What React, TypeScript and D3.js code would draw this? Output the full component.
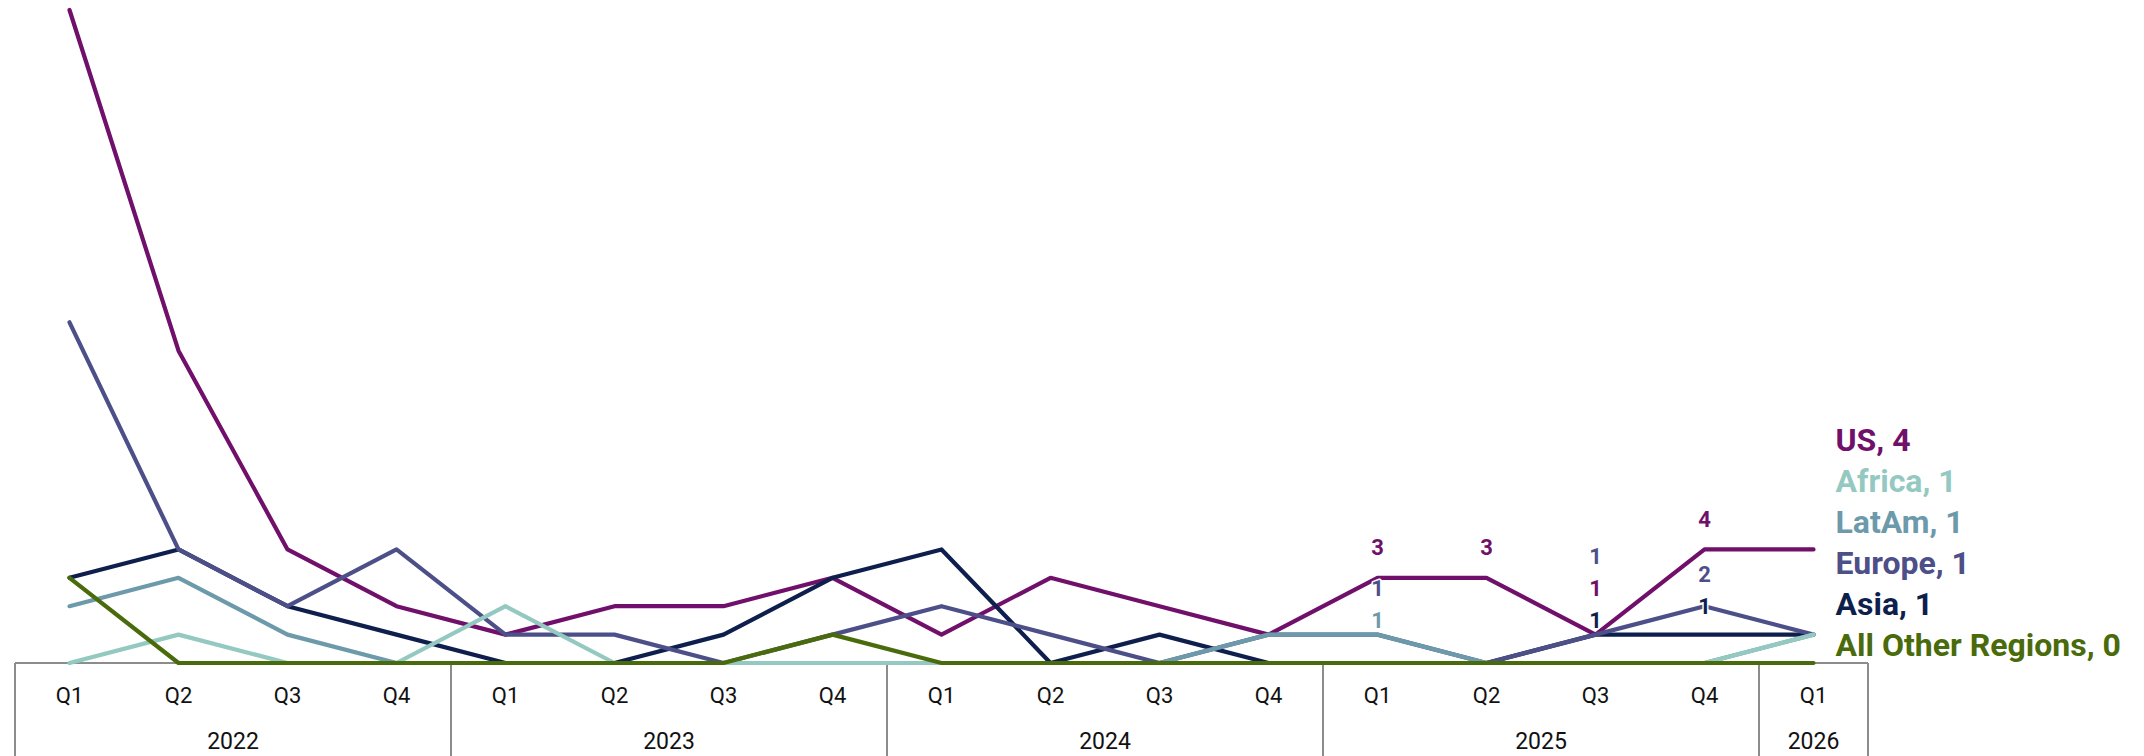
import React from "react";
import * as d3 from "d3";

const quarters = ["Q1","Q2","Q3","Q4","Q1","Q2","Q3","Q4","Q1","Q2","Q3","Q4","Q1","Q2","Q3","Q4","Q1"];
const years = ["2022","2022","2022","2022","2023","2023","2023","2023","2024","2024","2024","2024","2025","2025","2025","2025","2026"];

const usValues =     [23,11,4,2,1,2,2,3,1,3,2,1,3,3,1,4,4];
const asiaValues =   [3,4,2,1,0,0,1,3,4,0,1,0,0,0,1,1,1];
const europeValues = [12,4,2,4,1,1,0,1,2,1,0,1,1,0,1,2,1];
const latamValues =  [2,3,1,0,0,0,0,0,0,0,0,1,1,0,0,0,1];
const africaValues = [0,1,0,0,2,0,0,0,0,0,0,0,0,0,0,0,1];
const otherValues =  [3,0,0,0,0,0,0,1,0,0,0,0,0,0,0,0,0];

// draw order (bottom -> top)
const seriesNames = ["US","Asia","Europe","LatAm","Africa","All Other Regions"];
const seriesValues = [usValues, asiaValues, europeValues, latamValues, africaValues, otherValues];
const seriesColors = ["#70106a","#0e1f4d","#4d4f88","#6d9aab","#93c9c0","#4a6b0b"];
// legend order top -> bottom
const legendOrder = ["US","Africa","LatAm","Europe","Asia","All Other Regions"];
// label tie priority (top first)
const labelPriority = ["Europe","US","LatAm","Asia","Africa","All Other Regions"];
// quarters with data labels (2025)
const labeledYear = "2025";

const W = 2144, H = 756;
const left = 15, right = 1868, baseY = 663, topY = 10;

type Lbl = { name: string; desired: number; maxY: number; y: number; color: string; text: string };

function dodge(items: Lbl[], gap: number) {
  items.sort((a, b) => a.desired - b.desired || labelPriority.indexOf(a.name) - labelPriority.indexOf(b.name));
  type G = { items: Lbl[]; top: number };
  let groups: G[] = [];
  for (const it of items) {
    groups.push({ items: [it], top: it.desired });
    let merged = true;
    while (merged && groups.length > 1) {
      merged = false;
      const g2 = groups[groups.length - 1];
      const g1 = groups[groups.length - 2];
      const g1Bottom = g1.top + (g1.items.length - 1) * gap;
      if (g1Bottom + gap > g2.top) {
        const all = g1.items.concat(g2.items);
        const mean = d3.mean(all, (d) => d.desired)!;
        const top = mean - ((all.length - 1) * gap) / 2;
        groups.splice(groups.length - 2, 2, { items: all, top });
        merged = true;
      }
    }
  }
  for (const g of groups) {
    let shift = 0;
    g.items.forEach((it, i) => {
      const y = g.top + i * gap;
      if (y > it.maxY) shift = Math.max(shift, y - it.maxY);
    });
    g.items.forEach((it, i) => { it.y = g.top + i * gap - shift; });
  }
  return items;
}

export default function App() {
  const x = d3.scaleBand<number>().domain(d3.range(quarters.length)).range([left, right]).padding(0);
  const y = d3.scaleLinear().domain([0, 23]).range([baseY, topY]);
  const cx = (i: number) => x(i)! + x.bandwidth() / 2;
  const line = d3.line<number>().x((_, i) => cx(i)).y((v) => y(v));

  const yearGroups: { year: string; start: number; end: number }[] = [];
  years.forEach((yr, i) => {
    const last = yearGroups[yearGroups.length - 1];
    if (last && last.year === yr) last.end = i;
    else yearGroups.push({ year: yr, start: i, end: i });
  });

  const dataLabels: Lbl[] = [];
  quarters.forEach((_, i) => {
    if (years[i] !== labeledYear) return;
    const items: Lbl[] = [];
    seriesNames.forEach((name, s) => {
      const v = seriesValues[s][i];
      if (v > 0) {
        items.push({ name, desired: y(v) - 30.5, maxY: y(v) - 14.5, y: 0, color: seriesColors[s], text: String(v) });
      }
    });
    dodge(items, 32).forEach((it) => dataLabels.push({ ...it, desired: i }));
  });

  const lastI = quarters.length - 1;
  const endItems: Lbl[] = legendOrder.map((name) => {
    const s = seriesNames.indexOf(name);
    const v = seriesValues[s][lastI];
    return { name, desired: y(v), maxY: baseY - 18.5, y: 0, color: seriesColors[s], text: `${name}, ${v}` };
  });
  const endSorted = [...endItems].sort((a, b) => a.desired - b.desired || legendOrder.indexOf(a.name) - legendOrder.indexOf(b.name));
  {
    const gap = 41;
    const mean = d3.mean(endSorted, (d) => d.desired)!;
    const top = mean - ((endSorted.length - 1) * gap) / 2;
    let shift = 0;
    endSorted.forEach((it, i) => { const yy = top + i * gap; if (yy > it.maxY) shift = Math.max(shift, yy - it.maxY); });
    endSorted.forEach((it, i) => { it.y = top + i * gap - shift; });
  }

  const font = "Roboto, 'Noto Sans', sans-serif";

  return (
    <svg width={W} height={H} style={{ position: "absolute", left: 0, top: 0, background: "#fff" }} fontFamily={font}>
      <line x1={left} x2={right} y1={baseY} y2={baseY} stroke="#8c8c8c" strokeWidth={2} />
      {yearGroups.map((g, k) => (
        <line key={"s" + k} x1={x(g.start)!} x2={x(g.start)!} y1={baseY} y2={H} stroke="#8c8c8c" strokeWidth={2} />
      ))}
      <line x1={right} x2={right} y1={baseY} y2={H} stroke="#8c8c8c" strokeWidth={2} />
      {quarters.map((q, i) => (
        <text key={"q" + i} x={cx(i)} y={703} textAnchor="middle" fontSize={22} fill="#111">{q}</text>
      ))}
      {yearGroups.map((g, k) => (
        <text key={"y" + k} x={(x(g.start)! + x(g.end)! + x.bandwidth()) / 2} y={749} textAnchor="middle" fontSize={23} fill="#111">{g.year}</text>
      ))}
      {seriesNames.map((name, s) => (
        <path key={name} d={line(seriesValues[s])!} fill="none" stroke={seriesColors[s]} strokeWidth={4.2} strokeLinejoin="round" strokeLinecap="round" />
      ))}
      {dataLabels.map((l, k) => (
        <text key={"dl" + k} x={cx(l.desired)} y={l.y} dy="0.36em" textAnchor="middle" fontSize={22} fontWeight="bold"
          fill={l.color} stroke="#fff" strokeWidth={3} paintOrder="stroke" strokeLinejoin="round">{l.text}</text>
      ))}
      {endSorted.map((l) => (
        <text key={"el" + l.name} x={cx(lastI) + 22} y={l.y} dy="0.36em" fontSize={32} fontWeight="bold" fill={l.color}>{l.text}</text>
      ))}
    </svg>
  );
}
